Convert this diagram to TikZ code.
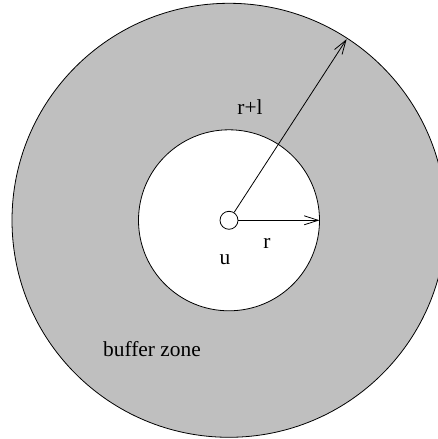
\documentclass[tikz,border=0pt]{standalone}
\usepackage{fontspec}
\setmainfont{Liberation Serif}
\usetikzlibrary{arrows.meta,calc}
\definecolor{zonegray}{RGB}{191,191,191}
\tikzset{
  ring/.style={draw=black, line width=0.8pt},
  lbl/.style={inner sep=0pt, font=\fontsize{21.4}{24}\selectfont},
  radius arrow/.style={draw=black, line width=0.8pt, -{Straight Barb[length=14pt,width=9pt,line width=0.8pt]}}
}
\begin{document}
\begin{tikzpicture}[x=1pt,y=1pt]
\useasboundingbox (0,0) rectangle (438,439);
\clip (0,0) rectangle (438,439);
\coordinate (c) at (229,218.7);
\draw[ring, fill=zonegray] (c) circle[radius=217];
\draw[ring, fill=white] (c) circle[radius=90.5];
\node[ring, circle, minimum size=18pt, inner sep=0pt, fill=white] (u) at (c) {};
\coordinate (rend) at ($(c)+(0:90.5)$);
\coordinate (rlend) at ($(c)+(57:216)$);
\draw[radius arrow] (u.east) -- (rend);
\draw[radius arrow] (u.57) -- (rlend);
\node[lbl] (lrl) at (250,332) {r+l};
\node[lbl] (lr) at (267,196) {r};
\node[lbl] (lu) at (225,179) {u};
\node[lbl] (lbz) at (152,89.5) {buffer zone};
\end{tikzpicture}
\end{document}
